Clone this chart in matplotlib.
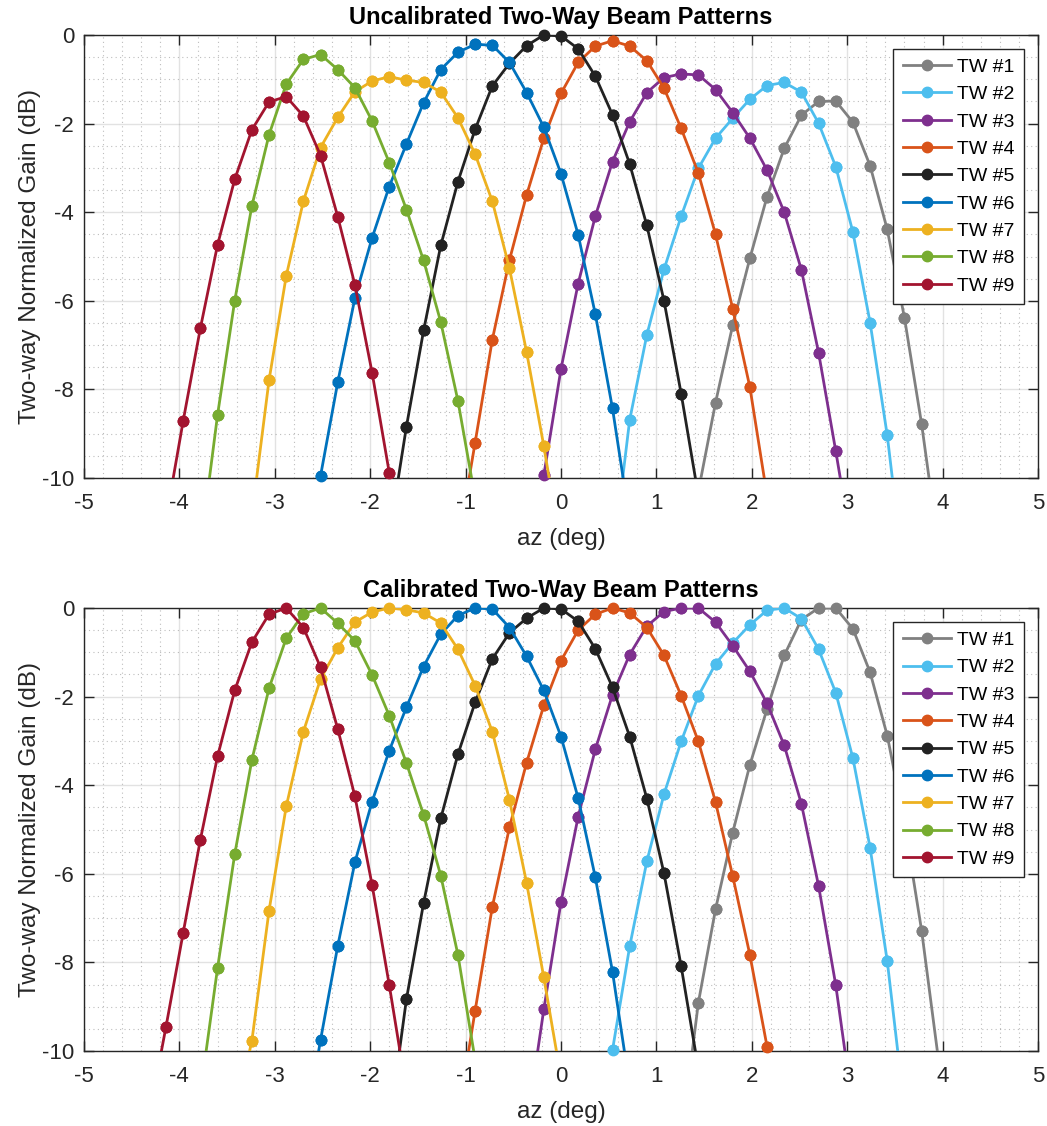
import numpy as np
import matplotlib
matplotlib.use('Agg')
from matplotlib import pyplot as plt
from matplotlib.ticker import MultipleLocator

plt.rcParams['font.family'] = ['Liberation Sans', 'DejaVu Sans']
plt.rcParams['axes.unicode_minus'] = False

# azimuth samples are on a common grid: az = az_step * index
az_step = 0.18

labels = ['TW #1', 'TW #2', 'TW #3', 'TW #4', 'TW #5', 'TW #6', 'TW #7', 'TW #8', 'TW #9']
colors = ['#808080', '#4DBEEE', '#7E2F8E', '#D95319', '#222222',
          '#0072BD', '#EDB120', '#77AC30', '#A2142F']

# first grid index of each beam
uncal_start = [8, 3, -2, -6, -10, -15, -18, -21, -23]
uncal_gain = [
    [-10.3, -8.30, -6.55, -5.04, -3.65, -2.56, -1.81, -1.50, -1.49, -1.97, -2.95, -4.39, -6.38, -8.78, -11.6],
    [-11.9, -8.69, -6.77, -5.29, -4.09, -3.01, -2.33, -1.88, -1.45, -1.14, -1.07, -1.29, -1.99, -2.97, -4.45,
     -6.49, -9.04, -12.3],
    [-12.0, -9.94, -7.54, -5.61, -4.09, -2.86, -1.96, -1.30, -0.96, -0.88, -0.90, -1.23, -1.75, -2.33, -3.05,
     -4.00, -5.30, -7.17, -9.39, -11.7],
    [-11.5, -9.20, -6.88, -5.08, -3.61, -2.33, -1.32, -0.62, -0.25, -0.13, -0.25, -0.58, -1.20, -2.11, -3.12,
     -4.50, -6.18, -7.95, -10.4],
    [-11.3, -8.84, -6.67, -4.75, -3.31, -2.13, -1.15, -0.64, -0.24, 0.0, -0.02, -0.31, -0.93, -1.80, -2.91,
     -4.30, -6.00, -8.10, -10.4],
    [-12.0, -9.95, -7.84, -5.94, -4.58, -3.42, -2.46, -1.53, -0.78, -0.39, -0.21, -0.23, -0.62, -1.30, -2.08,
     -3.13, -4.51, -6.30, -8.43, -10.96],
    [-10.85, -7.79, -5.44, -3.75, -2.54, -1.86, -1.28, -1.04, -0.94, -1.02, -1.07, -1.29, -1.87, -2.69, -3.75,
     -5.27, -7.16, -9.28, -11.6],
    [-11.6, -8.58, -6.00, -3.86, -2.25, -1.11, -0.55, -0.44, -0.78, -1.19, -1.94, -2.88, -3.94, -5.09, -6.48,
     -8.26, -10.45],
    [-10.93, -8.71, -6.62, -4.74, -3.26, -2.14, -1.51, -1.39, -1.83, -2.72, -4.10, -5.64, -7.62, -9.88, -12.5],
]

cal_start = [7, 2, -2, -6, -10, -15, -19, -21, -24]
cal_gain = [
    [-12.0, -8.91, -6.80, -5.07, -3.54, -2.28, -1.07, -0.26, 0.0, 0.0, -0.47, -1.45, -2.88, -4.85, -7.28, -10.25],
    [-13.0, -9.98, -7.64, -5.72, -4.20, -3.01, -1.98, -1.26, -0.79, -0.38, -0.05, 0.0, -0.24, -0.93, -1.91,
     -3.39, -5.41, -7.97, -11.3],
    [-11.7, -9.06, -6.64, -4.71, -3.19, -1.96, -1.05, -0.41, -0.08, 0.0, 0.0, -0.32, -0.85, -1.43, -2.15,
     -3.10, -4.42, -6.27, -8.51, -11.3],
    [-11.5, -9.09, -6.75, -4.95, -3.49, -2.20, -1.19, -0.50, -0.14, 0.0, -0.11, -0.44, -1.07, -1.98, -3.01,
     -4.38, -6.05, -7.83, -9.90, -12.0],
    [-11.7, -8.83, -6.66, -4.75, -3.30, -2.13, -1.15, -0.56, -0.23, 0.0, -0.02, -0.30, -0.92, -1.79, -2.90,
     -4.30, -5.99, -8.09, -10.4],
    [-12.0, -9.75, -7.63, -5.74, -4.37, -3.22, -2.24, -1.32, -0.59, -0.17, 0.0, -0.02, -0.44, -1.09, -1.86,
     -2.90, -4.29, -6.08, -8.21, -10.8],
    [-11.5, -9.77, -6.83, -4.48, -2.79, -1.60, -0.90, -0.32, -0.09, 0.0, -0.04, -0.11, -0.34, -0.93, -1.75,
     -2.79, -4.33, -6.21, -8.34, -10.6],
    [-10.95, -8.13, -5.56, -3.43, -1.81, -0.68, -0.13, 0.0, -0.34, -0.74, -1.51, -2.43, -3.50, -4.67, -6.04,
     -7.83, -10.2],
    [-11.5, -9.45, -7.33, -5.23, -3.35, -1.86, -0.77, -0.14, 0.0, -0.44, -1.34, -2.73, -4.25, -6.25, -8.51, -10.9],
]

axis_col = '#262626'


def beam_plot(ax, starts, gains, title):
    for start, g, lab, col in zip(starts, gains, labels, colors):
        g = np.array(g)
        az = az_step * np.arange(start, start + len(g))
        ax.plot(az, g, '-o', color=col, lw=2.0, ms=7.5, label=lab, zorder=3)
        # markers inside the y range are drawn whole, even at the edge
        inside = g >= -10.05
        ax.plot(az[inside], g[inside], 'o', color=col, ms=7.5, clip_on=False, zorder=3)

    ax.set_xlim(-5, 5)
    ax.set_ylim(-10, 0)
    ax.xaxis.set_major_locator(MultipleLocator(1))
    ax.yaxis.set_major_locator(MultipleLocator(2))
    ax.xaxis.set_minor_locator(MultipleLocator(0.2))
    ax.yaxis.set_minor_locator(MultipleLocator(0.5))
    ax.grid(which='major', color=axis_col, alpha=0.13, lw=1.0, zorder=0)
    ax.grid(which='minor', color=axis_col, alpha=0.3, lw=0.8, ls=(0, (1, 3)), zorder=0)
    ax.set_axisbelow(True)
    ax.tick_params(which='major', direction='in', length=7, width=1, top=True, right=True,
                   labelsize=16, colors=axis_col)
    ax.tick_params(axis='x', which='major', pad=11)
    ax.tick_params(axis='y', which='major', pad=7)
    ax.tick_params(which='minor', length=0)
    for s in ax.spines.values():
        s.set_color(axis_col)
        s.set_linewidth(1.0)

    ax.set_title(title, fontsize=17, fontweight='bold', pad=8)
    ax.set_xlabel('az (deg)', fontsize=17.5, color=axis_col, labelpad=10)
    ax.set_ylabel('Two-way Normalized Gain (dB)', fontsize=17.5, color=axis_col, labelpad=1)
    leg = ax.legend(loc='upper right', fontsize=14, fancybox=False, framealpha=1,
                    edgecolor=axis_col, borderaxespad=0.7, handlelength=2.5,
                    handletextpad=0.3, labelspacing=0.5, borderpad=0.5)
    leg.get_frame().set_linewidth(1.0)
    leg.set_zorder(5)


fig = plt.figure(figsize=(10.47, 11.26), dpi=100)
ax1 = fig.add_axes([0.0802, 0.5755, 0.9112, 0.3934])
ax2 = fig.add_axes([0.0802, 0.0666, 0.9112, 0.3934])

beam_plot(ax1, uncal_start, uncal_gain, 'Uncalibrated Two-Way Beam Patterns')
beam_plot(ax2, cal_start, cal_gain, 'Calibrated Two-Way Beam Patterns')

fig.savefig('out.png', dpi=100)
